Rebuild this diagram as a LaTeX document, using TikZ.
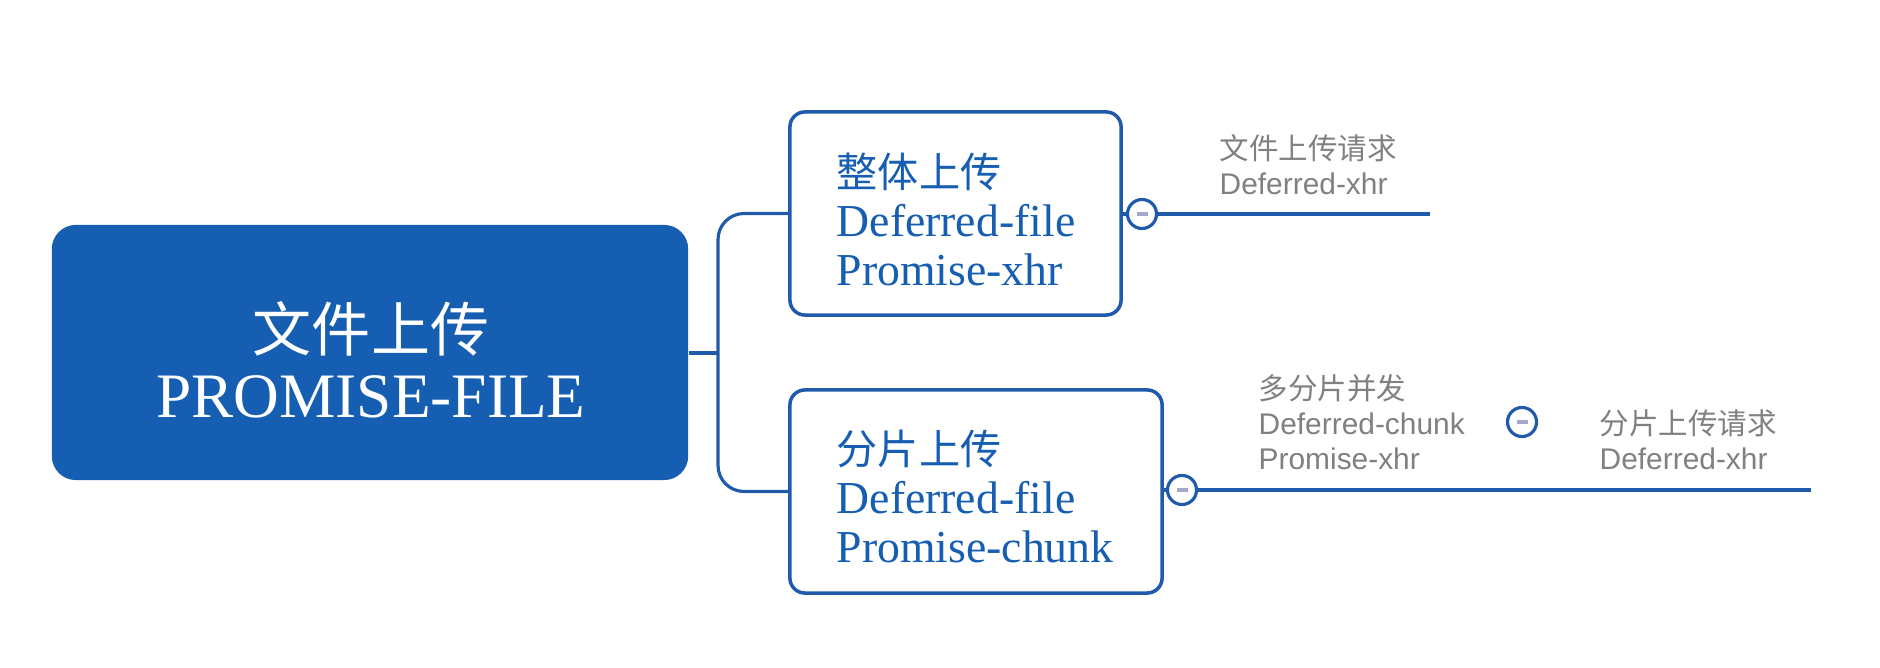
\documentclass[tikz,border=0pt]{standalone}
\usepackage{fontspec}
\setmainfont{Liberation Serif}
\newfontfamily\cjk{Noto Sans CJK SC}
\newfontfamily\gsans{Liberation Sans}
\definecolor{mblue}{RGB}{22,94,178}
\definecolor{lblue}{RGB}{32,90,170}
\definecolor{gtxt}{RGB}{128,128,128}
\definecolor{dashc}{RGB}{165,168,205}
\tikzset{
  rootbox/.style={draw=none, fill=mblue, rounded corners=0.24cm, inner sep=0},
  topicbox/.style={draw=lblue, line width=1pt, fill=white, rounded corners=0.15cm, inner sep=0},
  conn/.style={draw=lblue, line width=0.9pt},
  collapse/.style={circle, draw=lblue, line width=0.9pt, fill=white, minimum size=0.29cm, inner sep=0,
    path picture={\draw[dashc, line width=0.9pt] ([xshift=-0.055cm]path picture bounding box.center) -- ([xshift=0.055cm]path picture bounding box.center);}},
  rcjk/.style={anchor=base, inner sep=0, text=white, font=\cjk\fontsize{16.8}{18}\selectfont},
  rlat/.style={anchor=base, inner sep=0, text=white, font=\fontsize{18}{20}\selectfont},
  bcjk/.style={anchor=base west, inner sep=0, text=mblue, font=\cjk\fontsize{11.7}{13}\selectfont},
  blat/.style={anchor=base west, inner sep=0, text=mblue, font=\fontsize{13}{15}\selectfont},
  gcjk/.style={anchor=base west, inner sep=0, text=gtxt, font=\cjk\fontsize{8.4}{10}\selectfont},
  glat/.style={anchor=base west, inner sep=0, text=gtxt, font=\gsans\fontsize{8.5}{10}\selectfont},
}
\begin{document}
\begin{tikzpicture}[x=0.01cm, y=-0.01cm]
\useasboundingbox (0,0) rectangle (1880,668);

% root
\node[rootbox, minimum width=6.36cm, minimum height=2.55cm] (root) at (370,352.5) {};
\node[rcjk] (r1) at (371,352) {文件上传};
\node[rlat] (r2) at (371,418) {PROMISE-FILE};

% topic boxes
\node[topicbox, minimum width=3.31cm, minimum height=2.03cm] (b1) at (955.5,213.5) {};
\node[bcjk] (b1a) at (836,188) {整体上传};
\node[blat] (b1b) at (836,237) {Deferred-file};
\node[blat] (b1c) at (836,286) {Promise-xhr};

\node[topicbox, minimum width=3.72cm, minimum height=2.03cm] (b2) at (976,491.5) {};
\node[bcjk] (b2a) at (836,465) {分片上传};
\node[blat] (b2b) at (836,514) {Deferred-file};
\node[blat] (b2c) at (836,563) {Promise-chunk};

% connectors from root
\coordinate (j) at (718,353);
\draw[conn] (root.east |- j) -- (j);
\draw[conn, rounded corners=0.26cm] (b1.west) -| (j) |- (b2.west);

% branch 1
\node[collapse] (c1) at (1142,214) {};
\coordinate (e1) at (1430,214);
\draw[conn] (c1.west -| b1.east) -- (c1.west);
\draw[conn] (c1.east) -- (e1);
\node[gcjk] (s1a) at (1219,160) {文件上传请求};
\node[glat] (s1b) at (1219,195) {Deferred-xhr};

% branch 2
\node[collapse] (c2) at (1182,490) {};
\coordinate (e2) at (1811,490);
\draw[conn] (c2.west -| b2.east) -- (c2.west);
\draw[conn] (c2.east) -- (e2);
\node[gcjk] (s2a) at (1258,400) {多分片并发};
\node[glat] (s2b) at (1258,435) {Deferred-chunk};
\node[glat] (s2c) at (1258,470) {Promise-xhr};

\node[collapse] (c3) at (1522,422) {};
\node[gcjk] (s3a) at (1599,435) {分片上传请求};
\node[glat] (s3b) at (1599,470) {Deferred-xhr};
\end{tikzpicture}
\end{document}
